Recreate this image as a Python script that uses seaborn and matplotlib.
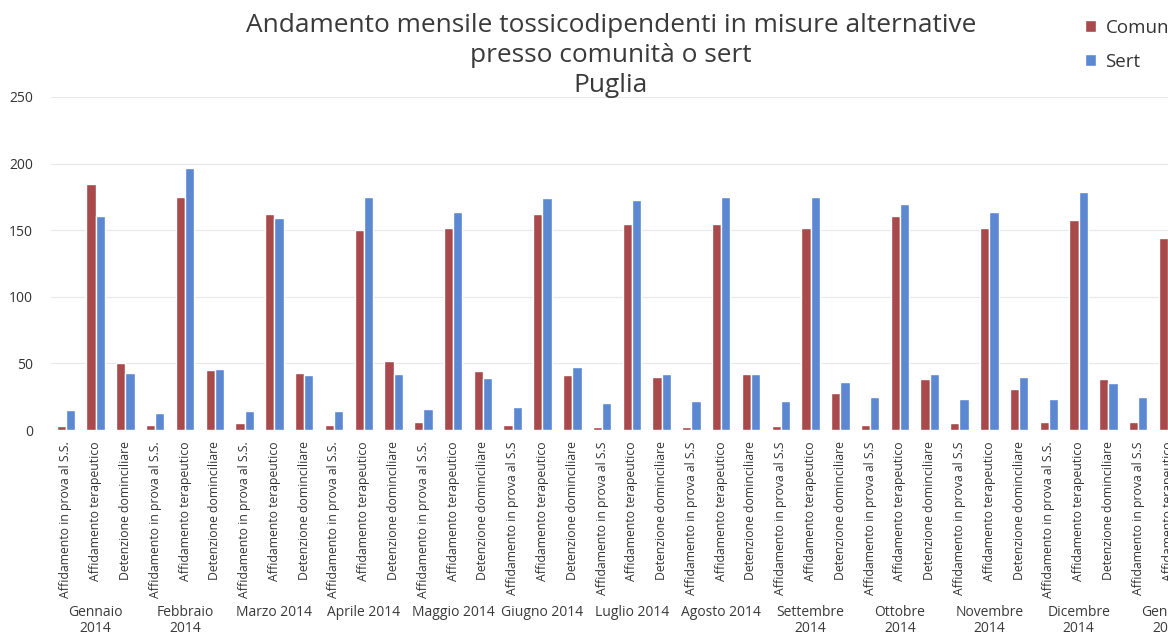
import numpy as np
import pandas as pd
import matplotlib
matplotlib.use('Agg')
import matplotlib.pyplot as plt
import matplotlib.transforms as mtransforms
import seaborn as sns

# months (the chart is cut on the right, Gennaio 2015 only partly visible)
months = ['Gennaio\n2014', 'Febbraio\n2014', 'Marzo 2014', 'Aprile 2014', 'Maggio 2014',
          'Giugno 2014', 'Luglio 2014', 'Agosto 2014', 'Settembre\n2014', 'Ottobre\n2014',
          'Novembre\n2014', 'Dicembre\n2014', 'Gennaio\n2015']

# category labels under each bar pair
categories = [
    'Affidamento in prova al S.S.', 'Affidamento terapeutico', 'Detenzione dominciliare',
    'Affidamento in prova al S.S.', 'Affidamento terapeutico', 'Detenzione dominciliare',
    'Affidamento in prova al S.S.', 'Affidamento terapeutico', 'Detenzione dominciliare',
    'Affidamento in prova al S.S.', 'Affidamento terapeutico', 'Detenzione dominciliare',
    'Affidamento in prova al S.S.', 'Affidamento terapeutico', 'Detenzione dominciliare',
    'Affidamento in prova al S.S', 'Affidamento terapeutico', 'Detenzione dominciliare',
    'Affidamento in prova al S.S', 'Affidamento terapeutico', 'Detenzione dominciliare',
    'Affidamento in prova al S.S', 'Affidamento terapeutico', 'Detenzione dominciliare',
    'Affidamento in prova al S.S', 'Affidamento terapeutico', 'Detenzione dominciliare',
    'Affidamento in prova al S.S', 'Affidamento terapeutico', 'Detenzione dominciliare',
    'Affidamento in prova al S.S', 'Affidamento terapeutico', 'Detenzione dominciliare',
    'Affidamento in prova al S.S.', 'Affidamento terapeutico', 'Detenzione dominciliare',
    'Affidamento in prova al S.S', 'Affidamento terapeutico',
]

comunita = [3, 185, 50,   4, 175, 45,   5, 162, 43,   4, 150, 52,
            6, 152, 44,   4, 162, 41,   2, 155, 40,   2, 155, 42,
            3, 152, 28,   4, 161, 38,   5, 152, 31,   6, 158, 38,
            6, 144]
sert = [15, 161, 43,   13, 197, 46,   14, 159, 41,   14, 175, 42,
        16, 164, 39,   17, 174, 47,   20, 173, 42,   22, 175, 42,
        22, 175, 36,   25, 170, 42,   23, 164, 40,   23, 179, 35,
        25, np.nan]

n = len(categories)
df = pd.DataFrame({
    'pos': list(range(n)) * 2,
    'valore': comunita + sert,
    'serie': ['Comunità'] * n + ['Sert'] * n,
})

sns.set_style('white')
plt.rcParams['font.family'] = ['Open Sans', 'DejaVu Sans']

fig = plt.figure(figsize=(11.68, 6.36), dpi=100)
ax = fig.add_axes([51 / 1168, 206 / 636, 1 - 51 / 1168, 333 / 636])

sns.barplot(data=df, x='pos', y='valore', hue='serie', ax=ax,
            palette={'Comunità': '#a8494b', 'Sert': '#5c88d2'},
            width=0.62, gap=0, saturation=1, legend=True)

ax.set_xlim(-0.5, 36.95)
ax.set_ylim(0, 250)
ax.set_yticks([0, 50, 100, 150, 200, 250])
ax.tick_params(axis='y', length=0, pad=13, labelsize=10, labelcolor='#333333')
ax.set_xticks(range(n))
ax.set_xticklabels(categories, rotation=90, fontsize=8.8, color='#333333')
ax.tick_params(axis='x', length=0, pad=8)
ax.yaxis.grid(True, color='#e8e8e8', lw=0.8)
ax.set_axisbelow(True)
for s in ax.spines.values():
    s.set_visible(False)
ax.set_xlabel('')
ax.set_ylabel('')

# month labels under each group of three
trans = mtransforms.blended_transform_factory(ax.transData, ax.transAxes)
for i, m in enumerate(months):
    ax.text(3 * i + 1, -0.525, m, transform=trans, ha='center', va='top',
            fontsize=10, color='#3a3a3a', linespacing=1.12, clip_on=False)

fig.text(0.523, 0.98,
         'Andamento mensile tossicodipendenti in misure alternative\npresso comunità o sert\nPuglia',
         ha='center', va='top', fontsize=18.9, color='#3a3a3a', linespacing=1.28)

ax.legend(loc='upper left', bbox_to_anchor=(1068 / 1168, 0.997),
          bbox_transform=fig.transFigure, frameon=False, fontsize=13.5,
          handlelength=0.6, handleheight=0.6, handletextpad=0.5,
          labelspacing=0.85, labelcolor='#333333')

fig.savefig('out.png', dpi=100)
